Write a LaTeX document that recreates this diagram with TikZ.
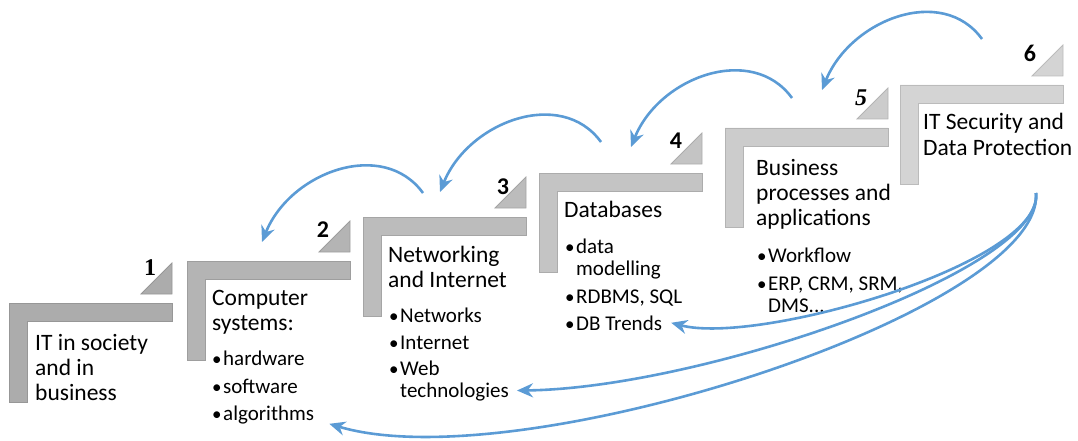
\documentclass[tikz,border=0pt]{standalone}
\usepackage{fontspec}
\setmainfont{Carlito}
\newfontfamily\numserif{Liberation Serif}
\usepackage{tikz}
\usetikzlibrary{arrows.meta}
\definecolor{stepA}{HTML}{ACACAC}
\definecolor{stepB}{HTML}{B4B4B4}
\definecolor{stepC}{HTML}{BCBCBC}
\definecolor{stepD}{HTML}{C4C4C4}
\definecolor{stepE}{HTML}{CCCCCC}
\definecolor{stepF}{HTML}{D4D4D4}
\definecolor{backblue}{HTML}{5B9BD5}
\newcommand{\bul}{\leavevmode\llap{\makebox[11pt][l]{\fontsize{19}{19}\selectfont\textbullet}}}
% one stair: corner x, corner y, colour
\newcommand{\stair}[3]{%
  \filldraw[fill=#3, draw=#3!88!black, line width=.8pt] (#1,#2) -- ++(163,0) -- ++(0,18) -- ++(-145,0) -- ++(0,81) -- ++(-18,0) -- cycle;
  \filldraw[fill=#3, draw=#3!88!black, line width=.8pt] (#1+163,#2-9) -- ++(0,-31) -- ++(-31,31) -- cycle;
}

\begin{document}
\begin{tikzpicture}[x=1pt, y=-1pt, >={Stealth[length=16pt,width=14pt]},
steptitle/.style={anchor=base west, inner sep=0pt, align=left, font=\fontsize{23.5}{25}\selectfont},
stepitem/.style={anchor=base west, inner sep=0pt, align=left, font=\fontsize{21}{22}\selectfont},
stepnum/.style={inner sep=0pt, font=\fontsize{24}{24}\selectfont\bfseries},
backarrow/.style={->, backblue, line width=2.6pt}
]
\useasboundingbox (0,0) rectangle (1078,441);

\stair{9}{303}{stepA}
\stair{187}{261}{stepB}
\stair{363}{217}{stepC}
\stair{539}{173}{stepD}
\stair{725}{128}{stepE}
\stair{900}{85}{stepF}

\node (n1) [stepnum, font=\fontsize{24}{24}\selectfont\numserif\bfseries] at (150,268) {1};
\node (n2) [stepnum] at (323,230) {2};
\node (n3) [stepnum] at (503,187) {3};
\node (n4) [stepnum] at (676,141) {4};
\node (n5) [stepnum, font=\fontsize{24}{24}\selectfont\numserif\bfseries\itshape] at (861,98) {5};
\node (n6) [stepnum] at (1030,53) {6};

% multi-line nodes sit on their last line
\node (t1) [steptitle] at (35,400) {IT in society\\and in\\business};

\node (t2) [steptitle] at (212,330) {Computer\\systems:};
\node (hw) [stepitem] at (223,365) {\bul hardware};
\node (sw) [stepitem] at (223,393) {\bul software};
\node (algo) [stepitem] at (223,420) {\bul algorithms};

\node (t3) [steptitle] at (388,287) {Networking\\and Internet};
\node (nets) [stepitem] at (400,322) {\bul Networks};
\node (inet) [stepitem] at (400,349) {\bul Internet};
\node (web) [stepitem] at (400,397) {\bul Web\\technologies};

\node (t4) [steptitle] at (564,217) {Databases};
\node (data) [stepitem] at (576,275) {\bul data\\modelling};
\node (rdbms) [stepitem] at (576,303) {\bul RDBMS, SQL};
\node (trends) [stepitem] at (576,330) {\bul DB Trends};

\node (t5) [steptitle] at (756,225) {Business\\processes and\\applications};
\node (flow) [stepitem] at (768,262) {\bul Workflow};
\node (erp) [stepitem] at (768,312) {\bul ERP, CRM, SRM,\\DMS...};

\node (t6) [steptitle] at (923,155) {IT Security and\\Data Protection};

% arrows back down the stairs
\coordinate (from6) at (982,39);
\coordinate (to5) at (822,90);
\coordinate (from5) at (792,98);
\coordinate (to4) at (631,147);
\coordinate (from4) at (601,142);
\coordinate (to3) at (440,192);
\coordinate (from3) at (423,193);
\coordinate (to2) at (262,242);
\coordinate (hook6) at (1036,193);

\draw[backarrow] (from6) .. controls +(-40,-55) and +(28,-70) .. (to5);
\draw[backarrow] (from5) .. controls +(-40,-55) and +(28,-70) .. (to4);
\draw[backarrow] (from4) .. controls +(-40,-55) and +(28,-70) .. (to3);
\draw[backarrow] (from3) .. controls +(-40,-55) and +(28,-70) .. (to2);

\draw[backarrow] (hook6) .. controls +(8,70) and +(87,23) .. ([xshift=9pt]trends.east);
\draw[backarrow] (hook6) .. controls +(8,77) and +(184,-2) .. ([xshift=8pt,yshift=-10pt]web.east);
\draw[backarrow] (hook6) .. controls +(9,117) and +(190,57) .. ([xshift=15pt]algo.south east);

\end{tikzpicture}
\end{document}
